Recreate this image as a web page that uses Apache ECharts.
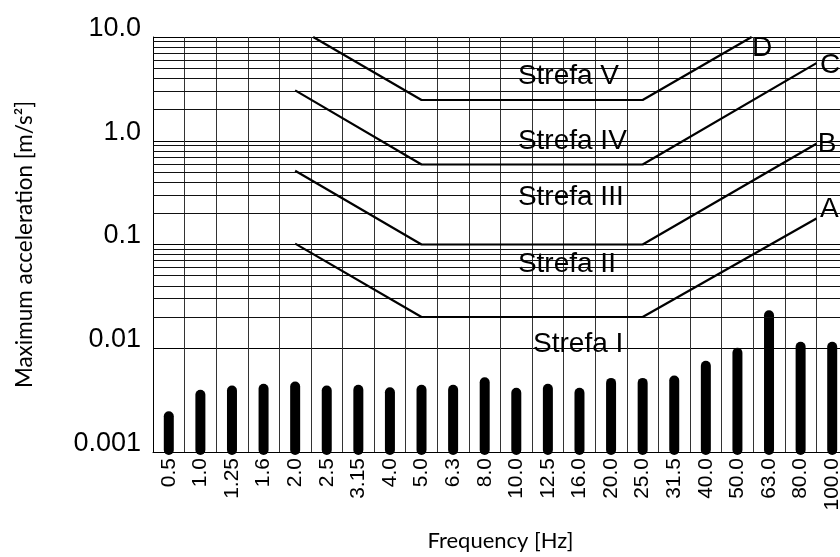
<!DOCTYPE html>
<html><head><meta charset="utf-8">
<script src="https://cdn.jsdelivr.net/npm/echarts@6/dist/echarts.min.js"></script>
<style>html,body{margin:0;padding:0;background:#fff;overflow:hidden;width:840px;height:557px}#c{width:848px;height:557px}</style>
</head><body><div id="c"></div>
<script>
// ---- data ----
const freqLabels = ['0.5','1.0','1.25','1.6','2.0','2.5','3.15','4.0','5.0','6.3','8.0','10.0','12.5','16.0','20.0','25.0','31.5','40.0','50.0','63.0','80.0','100.0'];
const accelValues = [0.00247,0.00398,0.00438,0.00454,0.00478,0.00438,0.00444,0.00421,0.00444,0.00444,0.00525,0.00416,0.00454,0.00416,0.00518,0.00518,0.00545,0.00757,0.0101,0.0232,0.01156,0.01156];
const yTickValues = [0.001,0.01,0.1,1,10];
const yTickLabels = ['0.001','0.01','0.1','1.0','10.0'];
const minorGridValues = [0.0032,
  0.02,0.03,0.04,0.05,0.06,0.07,0.08,0.09,
  0.2,0.3,0.4,0.5,0.6,0.7,0.8,0.9,
  2,3,4,5,6,7,8,9];
// zone boundary curves: [frequency-slot position, acceleration]
const curveA = [[4.5,0.102],[8.5,0.02],[15.5,0.02],[21,0.178]];
const curveB = [[4.5,0.514],[8.5,0.1],[15.5,0.1],[21,0.935]];
const curveC = [[4.5,3.06],[8.5,0.59],[15.5,0.59],[21,5.6]];
const curveD = [[5.07,10],[8.5,2.47],[15.5,2.47],[18.95,10]];
const zoneNames = ['Strefa V','Strefa IV','Strefa III','Strefa II','Strefa I'];
const zoneNamePos = [[11.55,4.14],[11.55,0.984],[11.55,0.284],[11.55,0.0643],[12.03,0.01087]];
const curveNames = ['D','C','B','A'];
const curveNamePos = [[18.96,7.86],[21.11,5.33],[21.04,0.923],[21.11,0.217]];

const yMin = 0.001, yMax = 10;
const TXT = 'Liberation Sans, Arial, sans-serif';
const NAMEF = 'Lato, Calibri, sans-serif';

const chart = echarts.init(document.getElementById('c'));

function curveSeries(data, withGrid) {
  const s = {
    type: 'line', xAxisIndex: 1, yAxisIndex: 0, data: data,
    symbol: 'none', silent: true, animation: false,
    lineStyle: { color: '#000', width: 2.2 }, z: 5
  };
  if (withGrid) {
    s.markLine = {
      silent: true, symbol: ['none','none'], animation: false,
      label: { show: false },
      lineStyle: { color: '#111', width: 1, type: 'solid' },
      data: minorGridValues.map(v => ({ yAxis: v }))
    };
  }
  return s;
}

function textSeries(names, pos) {
  return {
    type: 'scatter', xAxisIndex: 1, yAxisIndex: 0, symbolSize: 0,
    silent: true, animation: false, z: 6,
    itemStyle: { opacity: 1 },
    data: names.map((n, i) => ({ name: n, value: pos[i] })),
    label: {
      show: true, formatter: '{b}', position: [0, 0],
      align: 'left', verticalAlign: 'middle', opacity: 1,
      fontFamily: TXT, fontSize: 28, color: '#000'
    }
  };
}

chart.setOption({
  animation: false,
  backgroundColor: '#fff',
  grid: { left: 153, right: 0, top: 37, bottom: 100, containLabel: false },
  xAxis: [{
    type: 'category', data: freqLabels, boundaryGap: true,
    name: 'Frequency [Hz]', nameLocation: 'middle', nameGap: 78,
    nameTextStyle: { fontFamily: NAMEF, fontSize: 22, color: '#000' },
    axisLine: { show: true, lineStyle: { color: '#000', width: 1 } },
    axisTick: { show: false },
    axisLabel: { interval: 0, rotate: 90, margin: 6, fontFamily: TXT, fontSize: 21, color: '#000' },
    splitLine: { show: true, interval: 0, lineStyle: { color: '#333', width: 1 } }
  }, {
    type: 'value', min: 0, max: 22, show: false,
    splitLine: { show: false }
  }],
  yAxis: [{
    type: 'log', logBase: 10, min: yMin, max: yMax,
    name: 'Maximum acceleration [m/s²]', nameLocation: 'middle', nameGap: 117,
    nameTextStyle: { fontFamily: NAMEF, fontSize: 22.5, color: '#000' },
    axisLine: { show: true, lineStyle: { color: '#000', width: 1 } },
    axisTick: { show: false },
    axisLabel: {
      margin: 12, fontFamily: TXT, fontSize: 27, color: '#000',
      verticalAlign: 'bottom', lineHeight: 17,
      formatter: v => yTickLabels[Math.round(Math.log10(v)) - Math.round(Math.log10(yTickValues[0]))]
    },
    splitLine: { show: true, lineStyle: { color: '#000', width: 1 } }
  }],
  series: [
    curveSeries(curveA, true),
    curveSeries(curveB, false),
    curveSeries(curveC, false),
    curveSeries(curveD, false),
    {
      type: 'custom', xAxisIndex: 0, yAxisIndex: 0, silent: true, z: 4,
      data: accelValues.map((v, i) => [i, v]),
      encode: { x: 0, y: 1 },
      renderItem: function (params, api) {
        const top = api.coord([api.value(0), api.value(1)]);
        const base = api.coord([api.value(0), yMin]);
        const w = 10;
        return {
          type: 'rect',
          shape: { x: top[0] - w / 2, y: top[1], width: w, height: base[1] - top[1] + 3, r: w / 2 },
          style: { fill: '#000' }
        };
      }
    },
    textSeries(zoneNames, zoneNamePos),
    textSeries(curveNames, curveNamePos)
  ]
});
</script>
</body></html>
